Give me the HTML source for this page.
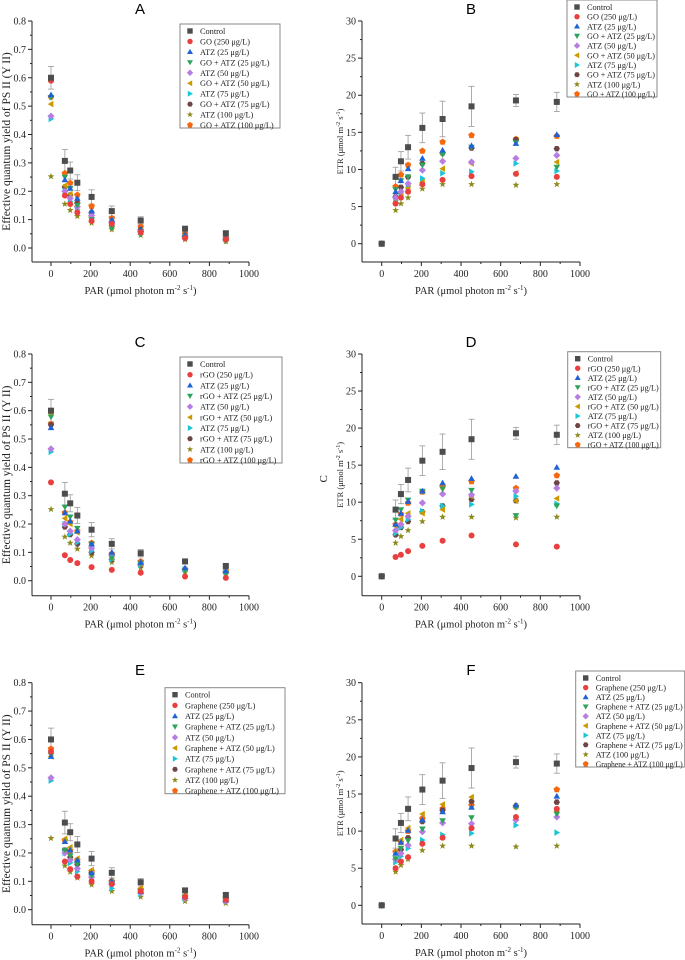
<!DOCTYPE html>
<html><head><meta charset="utf-8">
<style>
html,body{margin:0;padding:0;background:#fff;}
svg{display:block;font-family:"Liberation Serif",serif;}
</style></head>
<body>
<svg id="fig" width="685" height="960" viewBox="0 0 685 960" xmlns="http://www.w3.org/2000/svg"></svg>
<script>
// ---- data ----
const par = [0, 70, 97, 133, 205, 307, 453, 677, 883];
const xTicks = [0, 200, 400, 600, 800, 1000];
const yieldTicks = [0.0, 0.1, 0.2, 0.3, 0.4, 0.5, 0.6, 0.7, 0.8];
const etrTicks = [0, 5, 10, 15, 20, 25, 30];

const ctrlYield = [0.60, 0.307, 0.273, 0.23, 0.18, 0.13, 0.097, 0.068, 0.052];
const ctrlYieldErr = [0.04, 0.04, 0.03, 0.028, 0.025, 0.018, 0.013, 0.005, 0.005];
const atz25Yield = [0.54, 0.24, 0.21, 0.175, 0.13, 0.10, 0.065, 0.045, 0.035];
const atz50Yield = [0.465, 0.20, 0.175, 0.145, 0.115, 0.09, 0.06, 0.04, 0.03];
const atz75Yield = [0.455, 0.20, 0.165, 0.135, 0.105, 0.075, 0.055, 0.04, 0.03];
const atz100Yield = [0.252, 0.155, 0.133, 0.112, 0.088, 0.065, 0.045, 0.03, 0.023];

const goYield = [0.59, 0.185, 0.155, 0.125, 0.095, 0.085, 0.055, 0.035, 0.03];
const goAtz25Yield = [0.53, 0.25, 0.21, 0.15, 0.10, 0.07, 0.05, 0.035, 0.025];
const goAtz50Yield = [0.507, 0.22, 0.19, 0.15, 0.11, 0.08, 0.06, 0.04, 0.03];
const goAtz75Yield = [0.59, 0.215, 0.187, 0.16, 0.125, 0.09, 0.065, 0.045, 0.035];
const goAtz100Yield = [0.533, 0.263, 0.229, 0.187, 0.147, 0.105, 0.075, 0.05, 0.038];

const rgoYield = [0.347, 0.09, 0.073, 0.062, 0.048, 0.038, 0.028, 0.015, 0.01];
const rgoAtz25Yield = [0.578, 0.26, 0.225, 0.185, 0.13, 0.08, 0.06, 0.035, 0.025];
const rgoAtz50Yield = [0.59, 0.22, 0.20, 0.17, 0.12, 0.08, 0.06, 0.04, 0.03];
const rgoAtz75Yield = [0.55, 0.19, 0.163, 0.13, 0.10, 0.075, 0.055, 0.04, 0.03];
const rgoAtz100Yield = [0.553, 0.24, 0.207, 0.175, 0.133, 0.095, 0.068, 0.04, 0.035];

const grYield = [0.557, 0.17, 0.143, 0.117, 0.10, 0.09, 0.065, 0.045, 0.035];
const grAtz25Yield = [0.545, 0.21, 0.19, 0.16, 0.12, 0.09, 0.065, 0.045, 0.035];
const grAtz50Yield = [0.54, 0.25, 0.22, 0.18, 0.14, 0.10, 0.075, 0.05, 0.04];
const grAtz75Yield = [0.60, 0.21, 0.185, 0.16, 0.13, 0.10, 0.07, 0.045, 0.04];
const grAtz100Yield = [0.567, 0.245, 0.208, 0.175, 0.135, 0.10, 0.072, 0.047, 0.04];

const ctrlEtr = [0, 9, 11.1, 13, 15.6, 16.8, 18.5, 19.3, 19.1];
const ctrlEtrErr = [0, 1.3, 1.3, 1.6, 2.0, 2.4, 2.7, 0.8, 1.3];
const atz25Etr = [0, 7, 8.5, 10.1, 11.5, 12.6, 13.2, 13.5, 14.7];
const atz50Etr = [0, 6.2, 7, 8.1, 9.9, 11.1, 11, 11.5, 11.9];
const atz75Etr = [0, 5.8, 6.6, 7.7, 8.8, 9.5, 9.7, 10.8, 9.8];
const atz100Etr = [0, 4.5, 5.4, 6.2, 7.4, 8, 8, 7.9, 8];

const goEtr = [0, 5.4, 6.2, 7, 8, 8.6, 9.1, 9.4, 9];
const goAtz25Etr = [0, 7.3, 8.5, 9, 10.6, 12, 13, 13.6, 10.3];
const goAtz50Etr = [0, 5.6, 6.8, 7.5, 8.3, 10.1, 10.8, 9.5, 11];
const goAtz75Etr = [0, 6.3, 7.6, 9, 10.8, 12.2, 12.9, 14, 12.8];
const goAtz100Etr = [0, 7.7, 9.3, 10.6, 12.5, 13.7, 14.6, 14.1, 14.5];

const rgoEtr = [0, 2.6, 2.9, 3.4, 4.1, 4.8, 5.5, 4.3, 4.0];
const rgoAtz25Etr = [0, 7.6, 9, 10.3, 11.5, 11.8, 11.6, 8.2, 9.5];
const rgoAtz50Etr = [0, 6.8, 7.7, 8.5, 8.5, 9, 10.8, 10.2, 10.5];
const rgoAtz75Etr = [0, 5.6, 6.6, 7.4, 8.7, 9.5, 10.4, 10.2, 12.6];
const rgoAtz100Etr = [0, 7, 8.4, 9.9, 11.4, 12.1, 12.8, 11.9, 13.6];

const grEtr = [0, 5, 5.9, 6.5, 8.3, 9.1, 10.4, 11.9, 13];
const grAtz25Etr = [0, 6.3, 7.7, 8.7, 10.3, 11.4, 11.8, 13.2, 12.3];
const grAtz50Etr = [0, 7.2, 8.8, 10.4, 12.3, 13.6, 14.6, 13.3, 12.7];
const grAtz75Etr = [0, 6.2, 7.5, 9.1, 11.3, 12.8, 14, 13.4, 13.9];
const grAtz100Etr = [0, 7.2, 8.5, 10, 11.7, 13, 13.5, 13.3, 15.6];

const goLabels = ["Control","GO (250 μg/L)","ATZ (25 μg/L)","GO + ATZ (25 μg/L)","ATZ (50 μg/L)","GO + ATZ (50 μg/L)","ATZ (75 μg/L)","GO + ATZ (75 μg/L)","ATZ (100 μg/L)","GO + ATZ (100 μg/L)"];
const rgoLabels = ["Control","rGO (250 μg/L)","ATZ (25 μg/L)","rGO + ATZ (25 μg/L)","ATZ (50 μg/L)","rGO + ATZ (50 μg/L)","ATZ (75 μg/L)","rGO + ATZ (75 μg/L)","ATZ (100 μg/L)","rGO + ATZ (100 μg/L)"];
const grLabels = ["Control","Graphene (250 μg/L)","ATZ (25 μg/L)","Graphene + ATZ (25 μg/L)","ATZ (50 μg/L)","Graphene + ATZ (50 μg/L)","ATZ (75 μg/L)","Graphene + ATZ (75 μg/L)","ATZ (100 μg/L)","Graphene + ATZ (100 μg/L)"];

const colors = ["#4d4d4d","#ea3f3f","#1f62d6","#2ea35a","#b77de3","#cc9a00","#18c6d8","#6e4444","#8c8a1c","#f7680e"];
const shapes = ["square","circle","up","down","diamond","left","right","hex","star","pent"];

const NS = "http://www.w3.org/2000/svg";
const svg = document.getElementById("fig");
function mk(tag, attrs, parent){ const e=document.createElementNS(NS,tag); for(const k in attrs) e.setAttribute(k,attrs[k]); (parent||svg).appendChild(e); return e; }

function marker(g, shape, cx, cy, r, color){
  let e;
  const pts = (arr)=>arr.map(p=>(cx+p[0]).toFixed(1)+","+(cy+p[1]).toFixed(1)).join(" ");
  if(shape==="square") e=mk("rect",{x:cx-r,y:cy-r,width:2*r,height:2*r,fill:color},g);
  else if(shape==="circle") e=mk("circle",{cx:cx,cy:cy,r:r,fill:color},g);
  else if(shape==="up") e=mk("polygon",{points:pts([[0,-r*1.1],[r*1.1,r*0.8],[-r*1.1,r*0.8]]),fill:color},g);
  else if(shape==="down") e=mk("polygon",{points:pts([[0,r*1.1],[r*1.1,-r*0.8],[-r*1.1,-r*0.8]]),fill:color},g);
  else if(shape==="left") e=mk("polygon",{points:pts([[-r*1.1,0],[r*0.8,-r*1.1],[r*0.8,r*1.1]]),fill:color},g);
  else if(shape==="right") e=mk("polygon",{points:pts([[r*1.1,0],[-r*0.8,-r*1.1],[-r*0.8,r*1.1]]),fill:color},g);
  else if(shape==="diamond") e=mk("polygon",{points:pts([[0,-r*1.2],[r*1.2,0],[0,r*1.2],[-r*1.2,0]]),fill:color},g);
  else if(shape==="hex"){ const a=[]; for(let i=0;i<6;i++){const t=Math.PI/3*i; a.push([r*1.05*Math.cos(t),r*1.05*Math.sin(t)]);} e=mk("polygon",{points:pts(a),fill:color},g); }
  else if(shape==="pent"){ const a=[]; for(let i=0;i<5;i++){const t=-Math.PI/2+2*Math.PI/5*i; a.push([r*1.15*Math.cos(t),r*1.15*Math.sin(t)]);} e=mk("polygon",{points:pts(a),fill:color},g); }
  else if(shape==="star"){ const a=[]; for(let i=0;i<10;i++){const t=-Math.PI/2+Math.PI/5*i; const rr=i%2?r*0.5:r*1.2; a.push([rr*Math.cos(t),rr*Math.sin(t)]);} e=mk("polygon",{points:pts(a),fill:color},g); }
  return e;
}

function panel(cfg){
  const g = mk("g",{});
  
  
  const xs = v => cfg.x0 + (cfg.x1000 - cfg.x0) * v / 1000;
  const ys = v => cfg.yZero - (cfg.yZero - cfg.yTop) * v / cfg.yMax;
  const axisLeft = cfg.axisX, axisRight = xs(1000), axisBottom = cfg.axisBottom;
  const t = mk("text",{x:cfg.titleX,y:cfg.titleY,"font-family":"Liberation Sans, sans-serif","font-size":"15","text-anchor":"middle"},g);
  t.textContent = cfg.title;
  
  
  const ya = mk("line",{x1:axisLeft,y1:cfg.yTop,x2:axisLeft,y2:axisBottom,stroke:"#222","stroke-width":"1"},g);
  
  
  const xa = mk("line",{x1:axisLeft,y1:axisBottom,x2:axisRight,y2:axisBottom,stroke:"#222","stroke-width":"1"},g);
  
  
  cfg.yTicks.forEach((v,i)=>{
    const y = ys(v);
    mk("line",{x1:axisLeft-4,y1:y,x2:axisLeft,y2:y,stroke:"#222","stroke-width":"1"},g);
    if(i<cfg.yTicks.length-1){ const ym=ys((v+cfg.yTicks[i+1])/2); mk("line",{x1:axisLeft-2,y1:ym,x2:axisLeft,y2:ym,stroke:"#222","stroke-width":"1"},g); }
    const l = mk("text",{x:axisLeft-6,y:y+3.5,"font-size":"10","text-anchor":"end",fill:"#222"},g);
    l.textContent = cfg.yFmt(v);
    
    
  });
  xTicks.forEach((v,i)=>{
    const x = xs(v);
    mk("line",{x1:x,y1:axisBottom,x2:x,y2:axisBottom+4,stroke:"#222","stroke-width":"1"},g);
    const xm = xs(v-100); if(xm>axisLeft) mk("line",{x1:xm,y1:axisBottom,x2:xm,y2:axisBottom+2,stroke:"#222","stroke-width":"1"},g);
    const l = mk("text",{x:x,y:axisBottom+15,"font-size":"10","text-anchor":"middle",fill:"#222"},g);
    l.textContent = v;
    
    
  });
  const xt = mk("text",{x:(axisLeft+axisRight)/2,y:axisBottom+32,"font-size":"10.5","text-anchor":"middle",fill:"#222"},g);
  xt.innerHTML = 'PAR (μmol photon m<tspan baseline-shift="super" font-size="7">-2</tspan> s<tspan baseline-shift="super" font-size="7">-1</tspan>)';
  
  
  const ycy = (cfg.yTop + axisBottom)/2;
  const yt = mk("text",{x:cfg.yTitleX,y:ycy,"font-size":cfg.yTitleSize,"text-anchor":"middle",fill:"#222",transform:`rotate(-90 ${cfg.yTitleX} ${ycy})`},g);
  yt.innerHTML = cfg.yTitle;
  
  
  if(cfg.extraC){
    const c = mk("text",{x:327,y:ycy+4,"font-size":"11","text-anchor":"middle",fill:"#222",transform:`rotate(-90 327 ${ycy+4})`},g);
    c.textContent = "C";
    
    
  }
  par.forEach((p,i)=>{
    const e = cfg.ctrlErr[i]; if(!e) return;
    const x = xs(p), y1 = ys(cfg.series[0][i]+e), y2 = ys(cfg.series[0][i]-e);
    mk("line",{x1:x,y1:y1,x2:x,y2:y2,stroke:"#999","stroke-width":"0.8"},g);
    mk("line",{x1:x-3,y1:y1,x2:x+3,y2:y1,stroke:"#999","stroke-width":"0.8"},g);
    mk("line",{x1:x-3,y1:y2,x2:x+3,y2:y2,stroke:"#999","stroke-width":"0.8"},g);
  });
  for(let s=cfg.series.length-1; s>=0; s--){
    const sg = mk("g",{},g);
    
    
    cfg.series[s].forEach((v,i)=>{
      const m = marker(sg, shapes[s], xs(par[i]), ys(v), 3, colors[s]);
      
      
    });
  }
  const lg = mk("g",{},g);
  
  
  mk("rect",{x:cfg.lx,y:cfg.ly,width:cfg.lw,height:cfg.lh,fill:"#fff",stroke:"#888","stroke-width":"1"},lg);
  cfg.labels.forEach((lab,i)=>{
    const y = cfg.ly + 7 + i*((cfg.lh-10)/9);
    const le = mk("g",{},lg);
    
    
    marker(le, shapes[i], cfg.lx+10, y, 2.7, colors[i]);
    const tx = mk("text",{x:cfg.lx+20,y:y+3,"font-size":"8.3",fill:"#222"},le);
    tx.textContent = lab;
    const maxW = cfg.lw - 22;
    try { if(tx.getComputedTextLength() > maxW){ tx.setAttribute("textLength", maxW); tx.setAttribute("lengthAdjust","spacingAndGlyphs"); } } catch(e){}
  });
}

const yieldTitle = 'Effective quantum yield of PS II (Y II)';
const etrTitle = 'ETR (μmol m<tspan baseline-shift="super" font-size="6">-2</tspan> s<tspan baseline-shift="super" font-size="6">-1</tspan>)';
const yf = v => v.toFixed(1), ef = v => String(v);

const left = {axisX:32, x0:51, x1000:249, yMax:0.8, yTicks:yieldTicks, yFmt:yf, yTitle:yieldTitle, yTitleX:10, yTitleSize:"11.5", ctrlErr:ctrlYieldErr, titleX:140};
const right = {axisX:362, x0:381.7, x1000:580, yMax:30, yTicks:etrTicks, yFmt:ef, yTitle:etrTitle, yTitleX:343, yTitleSize:"8.5", ctrlErr:ctrlEtrErr, titleX:471};

panel(Object.assign({}, left, {name:"panel-a", title:"A", titleY:14, yTop:21, yZero:248, axisBottom:262,
  series:[ctrlYield,goYield,atz25Yield,goAtz25Yield,atz50Yield,goAtz50Yield,atz75Yield,goAtz75Yield,atz100Yield,goAtz100Yield],
  labels:goLabels, lx:180, ly:24, lw:100, lh:104}));
panel(Object.assign({}, right, {name:"panel-b", title:"B", titleY:14, yTop:21, yZero:243.7, axisBottom:262,
  series:[ctrlEtr,goEtr,atz25Etr,goAtz25Etr,atz50Etr,goAtz50Etr,atz75Etr,goAtz75Etr,atz100Etr,goAtz100Etr],
  labels:goLabels, lx:567, ly:0, lw:90, lh:97}));
panel(Object.assign({}, left, {name:"panel-c", title:"C", titleY:347, yTop:354, yZero:580.7, axisBottom:595.7,
  series:[ctrlYield,rgoYield,atz25Yield,rgoAtz25Yield,atz50Yield,rgoAtz50Yield,atz75Yield,rgoAtz75Yield,atz100Yield,rgoAtz100Yield],
  labels:rgoLabels, lx:180, ly:357, lw:102, lh:106}));
panel(Object.assign({}, right, {name:"panel-d", title:"D", titleY:347, yTop:354, yZero:576.3, axisBottom:595.7, extraC:true,
  series:[ctrlEtr,rgoEtr,atz25Etr,rgoAtz25Etr,atz50Etr,rgoAtz50Etr,atz75Etr,rgoAtz75Etr,atz100Etr,rgoAtz100Etr],
  labels:rgoLabels, lx:567.7, ly:351.7, lw:93, lh:96}));
panel(Object.assign({}, left, {name:"panel-e", title:"E", titleY:675, yTop:682.7, yZero:909.7, axisBottom:924.7,
  series:[ctrlYield,grYield,atz25Yield,grAtz25Yield,atz50Yield,grAtz50Yield,atz75Yield,grAtz75Yield,atz100Yield,grAtz100Yield],
  labels:grLabels, lx:165, ly:687.7, lw:120, lh:106}));
panel(Object.assign({}, right, {name:"panel-f", title:"F", titleY:675, yTop:682.7, yZero:905.3, axisBottom:924,
  series:[ctrlEtr,grEtr,atz25Etr,grAtz25Etr,atz50Etr,grAtz50Etr,atz75Etr,grAtz75Etr,atz100Etr,grAtz100Etr],
  labels:grLabels, lx:575.7, ly:671, lw:109, lh:96}));
</script>
</body></html>
